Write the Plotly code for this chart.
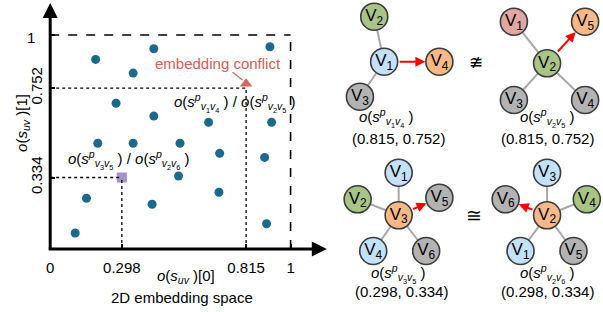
import plotly.graph_objects as go

W, H = 603, 312

# ---------------- data: 2D embedding space ----------------
pts_x = [0.189, 0.431, 0.345, 0.914, 0.274, 0.431, 0.659, 0.921, 0.198, 0.345,
         0.540, 0.705, 0.892, 0.534, 0.151, 0.424, 0.702, 0.900, 0.104]
pts_y = [0.886, 0.936, 0.822, 0.945, 0.681, 0.621, 0.592, 0.592, 0.494, 0.494,
         0.494, 0.447, 0.428, 0.341, 0.237, 0.209, 0.265, 0.118, 0.075]
conflict_pt = (0.815, 0.752)
iso_pt = (0.298, 0.334)
x_ticks = [0, 0.298, 0.815, 1]
x_ticktext = ["0", "0.298", "0.815", "1"]
y_ticks = [0.334, 0.752, 1]
y_ticktext = ["0.334", "0.752", ""]

# ---------------- data: graph diagrams (node positions in panel px) ----------------
COL = {"blue": "#c3e1f8", "green": "#a8c585", "orange": "#f8b986",
       "gray": "#b3b3b3", "pink": "#e0a7a3"}
graphs = [
    dict(nodes={1: (382.7, 61.7, "blue"), 2: (372.7, 16.7, "green"),
                3: (358.3, 96.7, "gray"), 4: (438.3, 61.7, "orange")},
         edges=[(1, 2), (1, 3)], red=(1, 4)),
    dict(nodes={1: (513.3, 21.7, "pink"), 2: (546.7, 63.3, "green"),
                3: (513.3, 100.0, "gray"), 4: (585.0, 100.0, "gray"),
                5: (585.0, 21.7, "orange")},
         edges=[(2, 1), (2, 3), (2, 4)], red=(2, 5)),
    dict(nodes={1: (397.3, 172.7, "blue"), 2: (356.0, 199.3, "green"),
                3: (397.3, 215.3, "orange"), 4: (371.7, 251.0, "blue"),
                5: (438.3, 197.7, "gray"), 6: (425.0, 251.0, "gray")},
         edges=[(3, 1), (3, 2), (3, 4), (3, 6)], red=(3, 5)),
    dict(nodes={1: (520.0, 251.0, "blue"), 2: (546.7, 215.3, "orange"),
                3: (546.7, 172.7, "blue"), 4: (586.7, 199.3, "green"),
                5: (573.3, 251.0, "gray"), 6: (505.0, 199.3, "gray")},
         edges=[(2, 3), (2, 4), (2, 1), (2, 5)], red=(2, 6)),
]
graph_labels = [("v<sub>1</sub>v<sub>4</sub>", "(0.815, 0.752)", 385, 118, 396.7, 138),
                ("v<sub>2</sub>v<sub>5</sub>", "(0.815, 0.752)", 546.7, 118, 546.7, 138),
                ("v<sub>3</sub>v<sub>5</sub>", "(0.298, 0.334)", 396.7, 274, 400, 291),
                ("v<sub>2</sub>v<sub>6</sub>", "(0.298, 0.334)", 546.7, 274, 546.7, 291)]

FONT = "Liberation Sans, Arial, sans-serif"
DOT = "#1c6a8b"
RED_TXT = "#d55d57"

# mapping of left plot: px = 46.5 + 242*v ; py = 249 - 214*v
XR = (325 - 46.5) / 242
YR = (249 - 3) / 214

fig = go.Figure()

fig.add_trace(go.Scatter(x=pts_x, y=pts_y, mode="markers",
                         marker=dict(size=9, color=DOT), xaxis="x", yaxis="y",
                         hoverinfo="skip"))
fig.add_trace(go.Scatter(x=[iso_pt[0]], y=[iso_pt[1]], mode="markers",
                         marker=dict(size=10, symbol="square", color="#a593c6"),
                         xaxis="x", yaxis="y"))
fig.add_trace(go.Scatter(x=[conflict_pt[0]], y=[conflict_pt[1] + 0.02], mode="markers",
                         marker=dict(size=11, symbol="triangle-up", color="#d9665e"),
                         xaxis="x", yaxis="y"))

shapes = []
# dashed boundary
for (x0, y0, x1, y1) in [(0, 1, 1, 1), (1, 0, 1, 1)]:
    shapes.append(dict(type="line", xref="x", yref="y", x0=x0, y0=y0, x1=x1, y1=y1,
                       line=dict(color="black", width=1.6, dash="dash")))
# dotted guides
for (px_, py_) in [conflict_pt, iso_pt]:
    shapes.append(dict(type="line", xref="x", yref="y", x0=0, y0=py_, x1=px_, y1=py_,
                       line=dict(color="black", width=1.3, dash="dot")))
    shapes.append(dict(type="line", xref="x", yref="y", x0=px_, y0=0, x1=px_, y1=py_,
                       line=dict(color="black", width=1.3, dash="dot")))
# pointer line from "embedding conflict"
shapes.append(dict(type="line", xref="x2", yref="y2", x0=230, y0=72, x1=240, y1=80,
                   line=dict(color="#c86a62", width=1.2)))

# gray edges
ex, ey = [], []
for g in graphs:
    for a, b in g["edges"]:
        ex += [g["nodes"][a][0], g["nodes"][b][0], None]
        ey += [g["nodes"][a][1], g["nodes"][b][1], None]
fig.add_trace(go.Scatter(x=ex, y=ey, mode="lines", line=dict(color="#a8a8a8", width=2),
                         xaxis="x2", yaxis="y2", hoverinfo="skip"))

annotations = []
# red arrows
for g in graphs:
    a, b = g["red"]
    annotations.append(dict(x=g["nodes"][b][0], y=g["nodes"][b][1],
                            ax=g["nodes"][a][0], ay=g["nodes"][a][1],
                            xref="x2", yref="y2", axref="x2", ayref="y2",
                            text="", showarrow=True, arrowhead=2, arrowsize=1.0,
                            arrowwidth=2, arrowcolor="#ff0000",
                            standoff=14, startstandoff=14))
# nodes
for g in graphs:
    keys = list(g["nodes"].keys())
    fig.add_trace(go.Scatter(
        x=[g["nodes"][k][0] for k in keys], y=[g["nodes"][k][1] for k in keys],
        mode="markers+text", text=["V<sub>%d</sub>" % k for k in keys],
        textposition="middle center",
        textfont=dict(family=FONT, size=17, color="black"),
        marker=dict(size=27, color=[COL[g["nodes"][k][2]] for k in keys],
                    line=dict(color="#3c3c3c", width=1.6)),
        xaxis="x2", yaxis="y2", hoverinfo="skip"))

def ann(x, y, text, size=15, color="black", angle=0):
    annotations.append(dict(x=x, y=y, xref="x2", yref="y2", text=text, showarrow=False,
                            font=dict(family=FONT, size=size, color=color),
                            textangle=angle, xanchor="center", yanchor="middle"))

for sub, coords, x1, y1, x2, y2 in graph_labels:
    ann(x1, y1, "<i>o</i>(<i>s</i><sup><i>p</i></sup><sub>%s</sub> )" % sub.replace("v", "<i>v</i>"), 15)
    ann(x2, y2, coords, 15)

ann(475, 62, "≇", 17)
ann(473, 215, "≅", 19)

# axes arrows (drawn as annotations)
annotations.append(dict(x=XR, y=0, ax=-0.012, ay=0, xref="x", yref="y", axref="x", ayref="y",
                        text="", showarrow=True, arrowhead=2, arrowsize=1.0, arrowwidth=3,
                        arrowcolor="black"))
annotations.append(dict(x=0, y=YR, ax=0, ay=-0.012, xref="x", yref="y", axref="x", ayref="y",
                        text="", showarrow=True, arrowhead=2, arrowsize=1.0, arrowwidth=3,
                        arrowcolor="black"))

# texts of the left plot
ann(27, 37, "1", 15)
ann(215, 63, "embedding conflict", 15, RED_TXT)
ann(233, 103, "<i>o</i>(<i>s</i><sup><i>p</i></sup><sub><i>v</i><sub>1</sub><i>v</i><sub>4</sub></sub> ) / "
               "<i>o</i>(<i>s</i><sup><i>p</i></sup><sub><i>v</i><sub>2</sub><i>v</i><sub>5</sub></sub> )", 15)
ann(126, 160, "<i>o</i>(<i>s</i><sup><i>p</i></sup><sub><i>v</i><sub>3</sub><i>v</i><sub>5</sub></sub> ) / "
               "<i>o</i>(<i>s</i><sup><i>p</i></sup><sub><i>v</i><sub>2</sub><i>v</i><sub>6</sub></sub> )", 15)
ann(183, 276, "<i>o</i>(<i>s</i><sub><i>uv</i></sub> )[0]", 15)
ann(179, 297, "2D embedding space", 15)
ann(18, 123, "<i>o</i>(<i>s</i><sub><i>uv</i></sub> )[1]", 15, angle=-90)

fig.update_layout(
    width=W, height=H, margin=dict(l=0, r=0, t=0, b=0),
    paper_bgcolor="white", plot_bgcolor="rgba(0,0,0,0)", showlegend=False,
    font=dict(family=FONT, size=15, color="black"),
    xaxis=dict(domain=[46.5 / W, 325 / W], range=[0, XR], showgrid=False, zeroline=False,
               showline=False, tickvals=x_ticks, ticktext=x_ticktext, ticks="inside",
               ticklen=5, tickwidth=2, tickcolor="black", ticklabelstandoff=8,
               tickfont=dict(family=FONT, size=15), anchor="y", fixedrange=True),
    yaxis=dict(domain=[(H - 249) / H, (H - 3) / H], range=[0, YR], showgrid=False,
               zeroline=False, showline=False, tickvals=y_ticks, ticktext=y_ticktext,
               ticks="inside", ticklen=5, tickwidth=2, tickcolor="black", tickangle=-90,
               ticklabelstandoff=4, tickfont=dict(family=FONT, size=15), anchor="x",
               fixedrange=True),
    xaxis2=dict(domain=[0, 1], range=[0, W], visible=False, anchor="y2", fixedrange=True),
    yaxis2=dict(domain=[0, 1], range=[H, 0], visible=False, anchor="x2", fixedrange=True),
    shapes=shapes, annotations=annotations,
)

fig.write_html("out.html", config={"displayModeBar": False},
               post_script="document.body.style.margin='0';document.body.style.padding='0';")
